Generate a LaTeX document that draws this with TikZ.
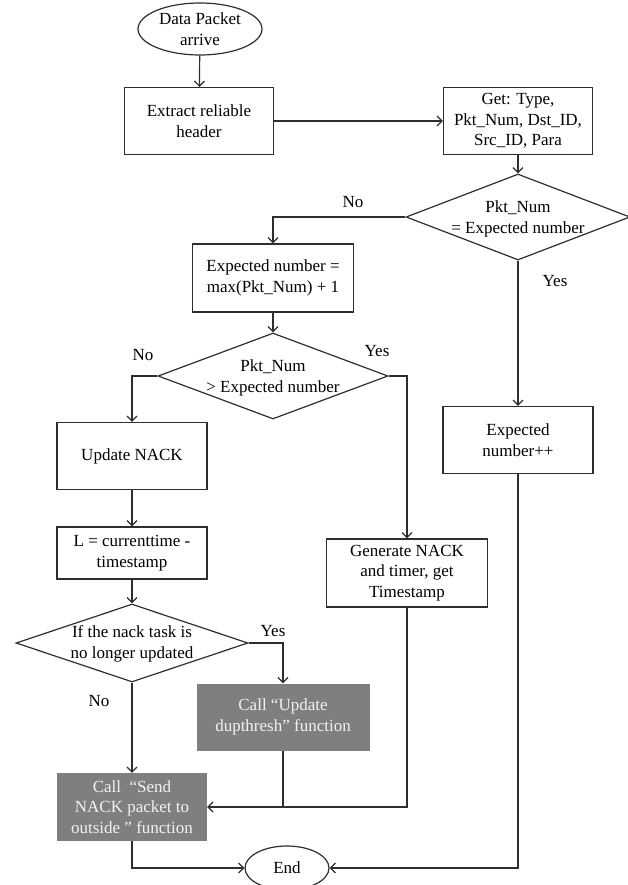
\documentclass[tikz,border=0pt]{standalone}
\usepackage{fontspec}
\setmainfont{Liberation Serif}
\usetikzlibrary{shapes.geometric,arrows.meta}
\newcommand\chartfont{\fontsize{17}{20.5}\selectfont}
\definecolor{linegray}{HTML}{2E2E2E}
\definecolor{callgray}{HTML}{7F7F7F}
\definecolor{calltext}{HTML}{F2F2F2}
\begin{document}
\begin{tikzpicture}[x=1pt,y=-1pt,
  every node/.style={font=\chartfont, text=black},
  stepbox/.style={draw=linegray, line width=1.2pt, fill=white, align=center,
    inner sep=0pt, minimum width=150pt, minimum height=67pt},
  callbox/.style={fill=callgray, text=calltext, align=center,
    inner sep=0pt, minimum width=150pt, minimum height=67pt},
  terminal/.style={ellipse, draw=linegray, line width=1.2pt, fill=white,
    align=center, inner sep=0pt},
  decision/.style={diamond, draw=linegray, line width=1.2pt, fill=white,
    inner sep=0pt},
  dtext/.style={align=center, inner sep=0pt},
  flow/.style={draw=linegray, line width=1.2pt,
    -{Straight Barb[length=5pt,width=10pt]}},
  plain/.style={draw=linegray, line width=1.2pt}
]
\useasboundingbox (0,0) rectangle (627,885);

% nodes
\node[terminal, minimum width=124pt, minimum height=52pt] (start) at (200,29) {Data Packet\\arrive};
\node[stepbox, minimum width=149pt] (extract) at (199,121) {Extract reliable\\header};
\node[stepbox, minimum width=149pt] (get) at (518,121) {Get: Type,\\Pkt\_Num, Dst\_ID,\\Src\_ID, Para};

\node[decision, minimum width=224pt, minimum height=86pt] (d1) at (518,217) {};
\node[dtext] (d1t) at (518,219) {Pkt\_Num\\= Expected number};

\node[stepbox, minimum width=161pt, minimum height=68pt] (calc) at (273,278) {Expected number =\\max(Pkt\_Num) + 1};

\node[decision, minimum width=230pt, minimum height=86pt] (d2) at (273,376) {};
\node[dtext] (d2t) at (273,378) {Pkt\_Num\\> Expected number};

\node[stepbox] (upd) at (132,456) {Update NACK};
\node[stepbox, minimum height=52pt] (L) at (132,553) {L = currenttime -\\timestamp};

\node[decision, minimum width=232pt, minimum height=78pt] (d3) at (132,643) {};
\node[dtext] (d3t) at (132,644) {If the nack task is\\no longer updated};

\node[callbox, minimum width=173pt] (dup) at (283,717) {Call “Update\\dupthresh” function};
\node[callbox, minimum height=68pt] (send) at (132,807) {Call \ “Send\\NACK packet to\\outside ” function};

\node[stepbox, minimum width=161pt, minimum height=68pt] (gen) at (407,573) {Generate NACK\\and timer, get\\Timestamp};
\node[stepbox] (inc) at (518,440) {Expected\\number++};

\node[terminal, minimum width=84pt, minimum height=44pt] (end) at (287,868) {End};

% branch labels
\node (l1) at (353,202) {No};
\node (l2) at (555,281) {Yes};
\node (l3) at (143,355) {No};
\node (l4) at (377,351) {Yes};
\node (l5) at (273,631) {Yes};
\node (l6) at (99,701) {No};

% connectors
\draw[flow] (start) -- (extract);
\draw[flow] (extract) -- (get);
\draw[flow] (get) -- (d1);
\draw[flow] (d1.west) -| (calc.north);
\draw[flow] (d1.south) -- (inc.north);
\draw[flow] (calc) -- (d2);
\draw[flow] (d2.west) -| (upd.north);
\draw[flow] (d2.east) -| (gen.north);
\draw[flow] (upd) -- (L);
\draw[flow] (L) -- (d3);
\draw[flow] (d3.east) -| (dup.north);
\draw[flow] (d3.south) -- (send.north);
\draw[plain] (dup.south) -- (dup.south |- send.east);
\draw[flow] (gen.south) |- (send.east);
\draw[flow] (send.south) |- (end.west);
\draw[flow] (inc.south) |- (end.east);
\end{tikzpicture}
\end{document}
